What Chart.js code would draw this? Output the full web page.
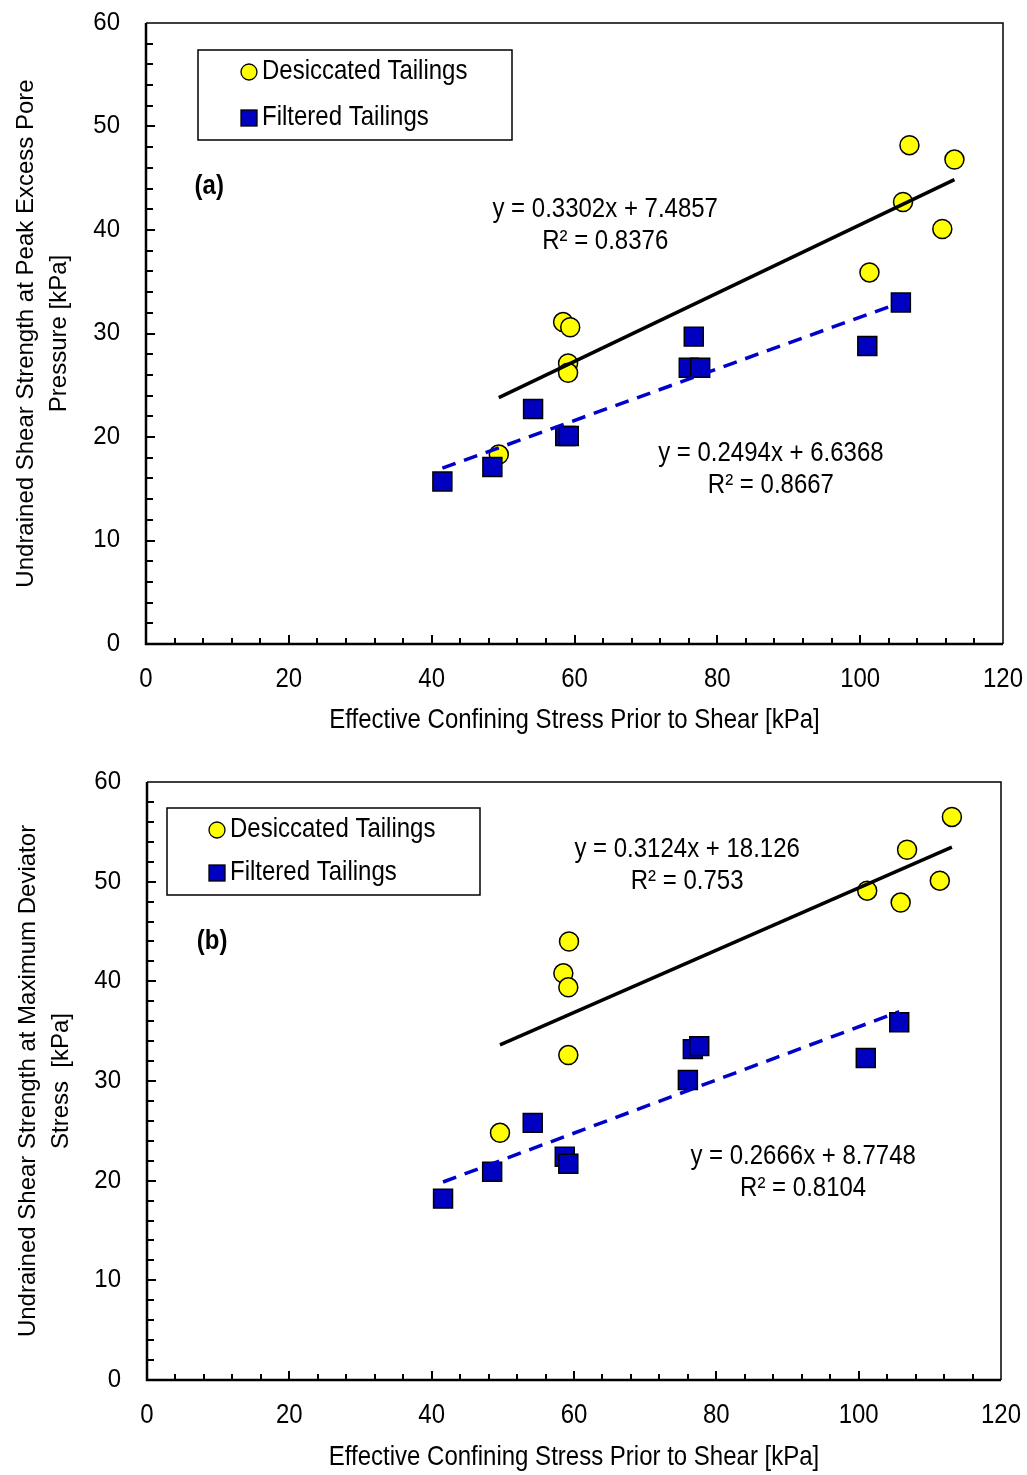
<!DOCTYPE html>
<html>
<head>
<meta charset="utf-8">
<script src="https://cdn.jsdelivr.net/npm/chart.js@4.4.0/dist/chart.umd.min.js"></script>
<style>
  html, body { margin: 0; padding: 0; background: #fff; }
  #wrap { position: relative; width: 1027px; height: 1475px; }
  canvas { position: absolute; left: 0; }
</style>
</head>
<body>
<div id="wrap">
  <canvas id="chartA" width="1027" height="740" style="top:0;width:1027px;height:740px"></canvas>
  <canvas id="chartB" width="1027" height="735" style="top:740px;width:1027px;height:735px"></canvas>
</div>
<script>
const xTickValues = [0, 20, 40, 60, 80, 100, 120];
const yTickValues = [0, 10, 20, 30, 40, 50, 60];
const seriesNames = ["Desiccated Tailings", "Filtered Tailings"];
const xTitle = "Effective Confining Stress Prior to Shear [kPa]";

// (a) strength at peak excess pore pressure
const desiccatedStressA = [49.4, 58.4, 59.4, 59.1, 59.1, 101.3, 106.0, 106.9, 113.2, 111.5];
const desiccatedSuA = [18.3, 31.1, 30.6, 27.1, 26.2, 35.9, 42.7, 48.2, 46.8, 40.1];
const filteredStressA = [41.5, 48.5, 54.2, 58.7, 59.2, 76.7, 76.0, 77.6, 101.0, 105.7];
const filteredSuA = [15.7, 17.1, 22.7, 20.1, 20.1, 29.7, 26.7, 26.7, 28.8, 33.0];
const fitDesiccatedA = [0.3302, 7.4857, 0.8376]; // slope, intercept, R²
const fitFilteredA = [0.2494, 6.6368, 0.8667];

// (b) strength at maximum deviator stress
const desiccatedStressB = [49.6, 59.3, 58.5, 59.2, 59.2, 113.1, 106.8, 101.2, 111.4, 105.9];
const desiccatedSuB = [24.8, 44.0, 40.8, 39.4, 32.6, 56.5, 53.2, 49.1, 50.1, 47.9];
const filteredStressB = [41.6, 48.5, 54.2, 58.7, 59.2, 76.0, 76.7, 77.6, 101.0, 105.7];
const filteredSuB = [18.2, 20.9, 25.8, 22.4, 21.7, 30.1, 33.2, 33.5, 32.3, 35.9];
const fitDesiccatedB = [0.3124, 18.126, 0.753];
const fitFilteredB = [0.2666, 8.7748, 0.8104];

const FONT = "'Liberation Sans', Arial, sans-serif";
const YELLOW = "#ffff00";
const BLUE = "#0000c0";
const DASH_BLUE = "#0000cc";
const TALL = 1.12;   // text in this figure is drawn a little taller than wide

const toPoints = (xs, ys) => xs.map((x, i) => ({ x: x, y: ys[i] }));

// straight fit line over the range of the series
function fitLine(xs, fit) {
  const lo = Math.min(...xs), hi = Math.max(...xs);
  return [{ x: lo, y: fit[0] * lo + fit[1] }, { x: hi, y: fit[0] * hi + fit[1] }];
}

const eqText = (fit) => "y = " + fit[0] + "x + " + fit[1];
const r2Text = (fit) => "R\u00b2 = " + fit[2];

function tallText(ctx, text, x, y, align, sy) {
  ctx.save();
  ctx.translate(x, y);
  ctx.scale(1, sy || TALL);
  ctx.textAlign = align;
  ctx.textBaseline = "middle";
  ctx.fillText(text, 0, 0);
  ctx.restore();
}

// frame, inward tick marks, tick labels, legend box and text labels
const decorPlugin = {
  id: "decor",
  afterDatasetsDraw(chart, args, o) {
    const ctx = chart.ctx;
    const a = chart.chartArea;
    const xs = chart.scales.x, ys = chart.scales.y;
    ctx.save();
    ctx.strokeStyle = "#000";

    // thin top / right frame
    ctx.lineWidth = 1.5;
    ctx.beginPath();
    ctx.moveTo(a.left, a.top); ctx.lineTo(a.right, a.top); ctx.lineTo(a.right, a.bottom);
    ctx.stroke();

    // inward ticks
    ctx.lineWidth = 2;
    ctx.beginPath();
    for (let v = 4; v < 120; v += 4) {
      const px = Math.round(xs.getPixelForValue(v));
      const len = v % 20 === 0 ? 9 : 6;
      ctx.moveTo(px, a.bottom); ctx.lineTo(px, a.bottom - len);
    }
    for (let v = 2; v < 60; v += 2) {
      const py = Math.round(ys.getPixelForValue(v));
      const len = v % 10 === 0 ? 9 : 7;
      ctx.moveTo(a.left, py); ctx.lineTo(a.left + len, py);
    }
    ctx.stroke();

    // heavy left / bottom axes
    ctx.lineWidth = 2.5;
    ctx.beginPath();
    ctx.moveTo(a.left, a.top); ctx.lineTo(a.left, a.bottom); ctx.lineTo(a.right, a.bottom);
    ctx.stroke();

    // tick labels and x title
    ctx.fillStyle = "#000";
    ctx.font = "24px " + FONT;
    for (const v of xTickValues) tallText(ctx, String(v), xs.getPixelForValue(v), a.bottom + 36, "center");
    for (const v of yTickValues) tallText(ctx, String(v), a.left - 26, ys.getPixelForValue(v), "right", 1.04);
    tallText(ctx, xTitle, (a.left + a.right) / 2, a.bottom + o.xTitleDy, "center");

    // legend
    const lg = o.legend;
    const bx = a.left + lg.dx, by = a.top + lg.dy;
    ctx.fillStyle = "#fff";
    ctx.fillRect(bx, by, lg.w, lg.h);
    ctx.lineWidth = 1.5;
    ctx.strokeRect(bx, by, lg.w, lg.h);
    const mx = bx + lg.markerDx;
    const row1 = by + lg.row1, row2 = by + lg.row2;
    ctx.lineWidth = 1.3;
    ctx.fillStyle = YELLOW;
    ctx.beginPath(); ctx.arc(mx, row1, 8, 0, Math.PI * 2); ctx.fill(); ctx.stroke();
    ctx.fillStyle = BLUE;
    ctx.fillRect(mx - 8, row2 - 8, 16, 16); ctx.strokeRect(mx - 8, row2 - 8, 16, 16);
    ctx.fillStyle = "#000";
    tallText(ctx, seriesNames[0], mx + 13, row1, "left");
    tallText(ctx, seriesNames[1], mx + 13, row2, "left");

    // fit equations
    for (const t of o.equations) {
      const px = xs.getPixelForValue(t.x), py = ys.getPixelForValue(t.y);
      tallText(ctx, eqText(t.fit), px, py, "center");
      tallText(ctx, r2Text(t.fit), px, py + 32, "center");
    }

    // panel letter
    ctx.font = "bold 24px " + FONT;
    tallText(ctx, o.panel.text, xs.getPixelForValue(o.panel.x), ys.getPixelForValue(o.panel.y), "left");
    ctx.restore();
  }
};

// keep axis boxes at fixed sizes, no extra room for overhanging labels
function fixBox(s, size) {
  if (s.isHorizontal()) s.height = size; else s.width = size;
  s.paddingTop = 0; s.paddingBottom = 0; s.paddingLeft = 0; s.paddingRight = 0;
}

function makeChart(id, d) {
  const h = document.getElementById(id).height;
  return new Chart(id, {
    type: "scatter",
    data: {
      datasets: [
        {
          type: "line", data: fitLine(d.desX, d.desFit), borderColor: "#000", borderWidth: 3.5,
          pointRadius: 0, fill: false, order: 0
        },
        {
          type: "line", data: fitLine(d.filX, d.filFit), borderColor: DASH_BLUE, borderWidth: 3.5,
          borderDash: [14, 9], pointRadius: 0, fill: false, order: 0
        },
        {
          label: seriesNames[1], data: toPoints(d.filX, d.filY), pointStyle: "rect",
          pointRadius: 13.4, backgroundColor: BLUE, borderColor: "#000", borderWidth: 1.5, order: 1
        },
        {
          label: seriesNames[0], data: toPoints(d.desX, d.desY), pointStyle: "circle",
          pointRadius: 9.5, backgroundColor: YELLOW, borderColor: "#000", borderWidth: 1.5, order: 2
        }
      ]
    },
    options: {
      responsive: false,
      animation: false,
      layout: { padding: { top: d.box.top, right: 1027 - d.box.right, left: 0, bottom: 0 } },
      plugins: {
        legend: { display: false },
        tooltip: { enabled: false },
        decor: { legend: d.legend, equations: d.equations, panel: d.panel, xTitleDy: d.xTitleDy }
      },
      scales: {
        x: {
          type: "linear", min: 0, max: 120,
          afterBuildTicks: (s) => { s.ticks = xTickValues.map(v => ({ value: v })); },
          afterFit: (s) => fixBox(s, h - d.box.bottom),
          grid: { display: false, drawTicks: false },
          border: { display: false },
          ticks: { display: false },
          title: { display: false }
        },
        y: {
          type: "linear", min: 0, max: 60,
          afterBuildTicks: (s) => { s.ticks = yTickValues.map(v => ({ value: v })); },
          afterFit: (s) => fixBox(s, d.box.left),
          grid: { display: false, drawTicks: false },
          border: { display: false },
          ticks: { display: false },
          title: {
            display: true, text: d.yTitle, color: "#000",
            font: { family: FONT, size: 24, lineHeight: 33 / 24 }, padding: { top: d.yTitlePad, bottom: 0 }
          }
        }
      }
    },
    plugins: [decorPlugin]
  });
}

makeChart("chartA", {
  desX: desiccatedStressA, desY: desiccatedSuA, desFit: fitDesiccatedA,
  filX: filteredStressA, filY: filteredSuA, filFit: fitFilteredA,
  box: { left: 146, right: 1003, top: 23, bottom: 644 },
  yTitle: ["Undrained Shear Strength at Peak Excess Pore", "Pressure [kPa]"],
  yTitlePad: 10, xTitleDy: 77,
  legend: { dx: 52, dy: 27, w: 314, h: 90, markerDx: 51, row1: 22, row2: 68 },
  equations: [{ x: 64.3, y: 42.0, fit: fitDesiccatedA }, { x: 87.5, y: 18.4, fit: fitFilteredA }],
  panel: { text: "(a)", x: 6.8, y: 44.2 }
});

makeChart("chartB", {
  desX: desiccatedStressB, desY: desiccatedSuB, desFit: fitDesiccatedB,
  filX: filteredStressB, filY: filteredSuB, filFit: fitFilteredB,
  box: { left: 147, right: 1001, top: 42, bottom: 640 },
  yTitle: ["Undrained Shear Strength at Maximum Deviator", "Stress  [kPa]"],
  yTitlePad: 12, xTitleDy: 78,
  legend: { dx: 20, dy: 26, w: 313, h: 87, markerDx: 50, row1: 22, row2: 65 },
  equations: [{ x: 75.9, y: 53.2, fit: fitDesiccatedB }, { x: 92.2, y: 22.4, fit: fitFilteredB }],
  panel: { text: "(b)", x: 7.0, y: 44.0 }
});
</script>
</body>
</html>
